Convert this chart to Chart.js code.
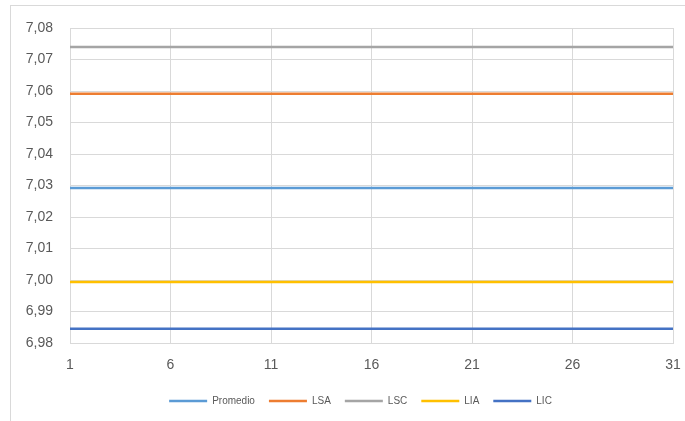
<!DOCTYPE html>
<html>
<head>
<meta charset="utf-8">
<script src="https://cdn.jsdelivr.net/npm/chart.js@4/dist/chart.umd.min.js"></script>
<style>
  html, body { margin: 0; padding: 0; background: #ffffff; overflow: hidden; }
  #frame {
    position: absolute; left: 10px; top: 5px; width: 700px; height: 440px;
    border-left: 1px solid #d9d9d9; border-top: 1px solid #d9d9d9;
  }
  #wrap { position: absolute; left: 0; top: 0; width: 685px; height: 421px; }
</style>
</head>
<body>
<div id="frame"></div>
<div id="wrap"><canvas id="c" width="685" height="421"></canvas></div>
<script>
// Sample numbers (x axis)
const categories = [1, 2, 3, 4, 5, 6, 7, 8, 9, 10, 11, 12, 13, 14, 15, 16,
  17, 18, 19, 20, 21, 22, 23, 24, 25, 26, 27, 28, 29, 30, 31];

// Control chart lines: mean, warning limits (LSA/LIA), control limits (LSC/LIC)
const promedio = [7.0292, 7.0292, 7.0292, 7.0292, 7.0292, 7.0292, 7.0292, 7.0292,
  7.0292, 7.0292, 7.0292, 7.0292, 7.0292, 7.0292, 7.0292, 7.0292, 7.0292, 7.0292,
  7.0292, 7.0292, 7.0292, 7.0292, 7.0292, 7.0292, 7.0292, 7.0292, 7.0292, 7.0292,
  7.0292, 7.0292, 7.0292];
const lsa = [7.0591, 7.0591, 7.0591, 7.0591, 7.0591, 7.0591, 7.0591, 7.0591,
  7.0591, 7.0591, 7.0591, 7.0591, 7.0591, 7.0591, 7.0591, 7.0591, 7.0591, 7.0591,
  7.0591, 7.0591, 7.0591, 7.0591, 7.0591, 7.0591, 7.0591, 7.0591, 7.0591, 7.0591,
  7.0591, 7.0591, 7.0591];
const lsc = [7.0740, 7.0740, 7.0740, 7.0740, 7.0740, 7.0740, 7.0740, 7.0740,
  7.0740, 7.0740, 7.0740, 7.0740, 7.0740, 7.0740, 7.0740, 7.0740, 7.0740, 7.0740,
  7.0740, 7.0740, 7.0740, 7.0740, 7.0740, 7.0740, 7.0740, 7.0740, 7.0740, 7.0740,
  7.0740, 7.0740, 7.0740];
const lia = [6.9994, 6.9994, 6.9994, 6.9994, 6.9994, 6.9994, 6.9994, 6.9994,
  6.9994, 6.9994, 6.9994, 6.9994, 6.9994, 6.9994, 6.9994, 6.9994, 6.9994, 6.9994,
  6.9994, 6.9994, 6.9994, 6.9994, 6.9994, 6.9994, 6.9994, 6.9994, 6.9994, 6.9994,
  6.9994, 6.9994, 6.9994];
const lic = [6.9845, 6.9845, 6.9845, 6.9845, 6.9845, 6.9845, 6.9845, 6.9845,
  6.9845, 6.9845, 6.9845, 6.9845, 6.9845, 6.9845, 6.9845, 6.9845, 6.9845, 6.9845,
  6.9845, 6.9845, 6.9845, 6.9845, 6.9845, 6.9845, 6.9845, 6.9845, 6.9845, 6.9845,
  6.9845, 6.9845, 6.9845];

// Y axis range and tick step
const yMin = 6.98;
const yMax = 7.08;
const yStep = 0.01;

const seriesNames = ['Promedio', 'LSA', 'LSC', 'LIA', 'LIC'];
const seriesData = [promedio, lsa, lsc, lia, lic];
const seriesColors = ['#5B9BD5', '#ED7D31', '#A5A5A5', '#FFC000', '#4472C4'];

const FONT = "'Liberation Sans', 'DejaVu Sans', sans-serif";
const TEXT = '#595959';
const GRID = '#d9d9d9';

const datasets = seriesNames.map((name, i) => ({
  label: name,
  data: seriesData[i],
  borderColor: seriesColors[i],
  backgroundColor: seriesColors[i],
  borderWidth: 2.5,
  pointRadius: 0,
  pointHoverRadius: 0,
  tension: 0,
  fill: false,
  pointStyle: 'line'
}));

// Nudge the legend row a little to the right of the canvas centre
const legendShift = {
  id: 'legendShift',
  afterLayout(chart) {
    const lg = chart.legend;
    if (lg) { lg.left += 19; lg.right += 19; }
  }
};

new Chart(document.getElementById('c'), {
  type: 'line',
  data: { labels: categories, datasets },
  plugins: [legendShift],
  options: {
    responsive: false,
    animation: false,
    devicePixelRatio: 1,
    layout: { padding: { left: 10, right: 12, top: 28, bottom: 5 } },
    plugins: {
      tooltip: { enabled: false },
      legend: {
        position: 'bottom',
        labels: {
          usePointStyle: true,
          pointStyleWidth: 38,
          boxHeight: 10,
          padding: 14,
          color: TEXT,
          font: { family: FONT, size: 10 }
        }
      }
    },
    scales: {
      x: {
        type: 'category',
        offset: false,
        afterFit: (s) => { s.height = 39; s.paddingLeft = 0; s.paddingRight = 0; },
        grid: { color: GRID, lineWidth: 1, drawTicks: false },
        border: { display: true, color: GRID },
        ticks: {
          autoSkip: false,
          maxRotation: 0,
          padding: 14,
          color: TEXT,
          font: { family: FONT, size: 14 },
          callback: function (value, index) {
            return index % 5 === 0 ? String(categories[index]) : null;
          }
        }
      },
      y: {
        min: yMin,
        max: yMax,
        afterFit: (s) => { s.width = 60; },
        grid: { color: GRID, lineWidth: 1, drawTicks: false },
        border: { display: false },
        ticks: {
          stepSize: yStep,
          padding: 17,
          color: TEXT,
          font: { family: FONT, size: 14 },
          callback: (v) => Number(v).toFixed(2).replace('.', ',')
        }
      }
    }
  }
});
</script>
</body>
</html>
